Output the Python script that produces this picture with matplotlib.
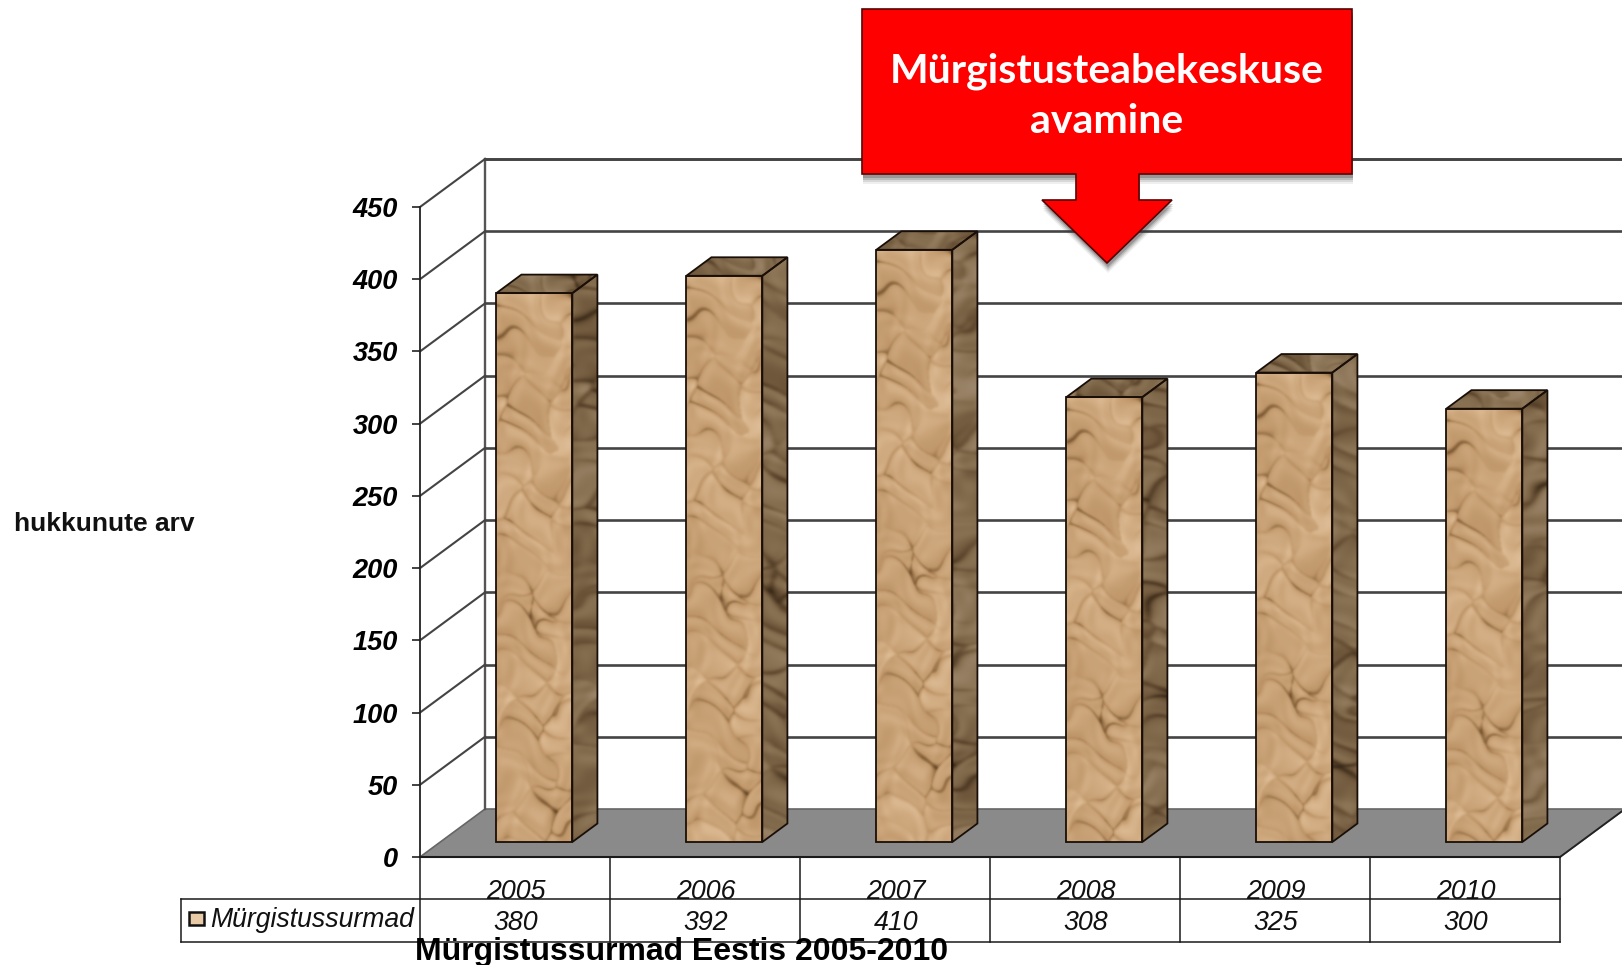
import numpy as np
import matplotlib
matplotlib.use("Agg")
import matplotlib.pyplot as plt
from matplotlib.colors import LinearSegmentedColormap
from matplotlib.patches import Polygon, Rectangle

years = ["2005", "2006", "2007", "2008", "2009", "2010"]
deaths = [380, 392, 410, 308, 325, 300]
y_ticks = [0, 50, 100, 150, 200, 250, 300, 350, 400, 450]
series_name = "Mürgistussurmad"
y_title = "hukkunute arv"
chart_title = "Mürgistussurmad Eestis 2005-2010"
callout_text = "Mürgistusteabekeskuse\navamine"

W, H = 1622, 965
plt.rcParams["font.family"] = ["Liberation Sans", "DejaVu Sans"]

fig = plt.figure(figsize=(W / 100, H / 100), dpi=100, facecolor="white")

# main axes is the front plane of the 3d box: one unit per category, values on y
left, right, bottom, top = 420, 1560, 857, 207
ax = fig.add_axes([left / W, 1 - bottom / H, (right - left) / W, (bottom - top) / H])
ax.set_xlim(0, 6)
ax.set_ylim(0, 450)
ax.patch.set_visible(False)
for s in ["top", "right", "bottom"]:
    ax.spines[s].set_visible(False)
ax.spines["left"].set_linewidth(1.3)
ax.spines["left"].set_color("#222222")
ax.set_xticks([])
ax.set_yticks(y_ticks)
ax.set_yticklabels(y_ticks, fontsize=19.5, fontweight="bold", fontstyle="italic", va="center_baseline")
ax.tick_params(axis="y", length=6, width=1.2, pad=10, color="#222222")

# depth of the box in data units
dx = 65 / 190
dy = 48 * 450 / 650


def val(y_px):
    # pixel row below the axes to value units, for the table under the chart
    return (bottom - y_px) * 450 / 650


# floor
ax.add_patch(Polygon([(0, 0), (dx, dy), (6 + dx, dy), (6, 0)], closed=True, fc="#8a8a8a",
                     ec="#666666", lw=1.2, zorder=1, clip_on=False))

# back wall and grid
grid_c = "#444444"
ax.plot([dx, dx], [dy, 450 + dy], color="#555555", lw=1.7, zorder=1.5, clip_on=False)
for t in y_ticks:
    if t > 0:
        ax.plot([0, dx], [t, t + dy], color=grid_c, lw=1.5, zorder=1.5, clip_on=False)
        ax.plot([dx, 6 + dx], [t + dy, t + dy], color=grid_c, lw=1.9, zorder=1.5, clip_on=False)
ax.plot([dx, 6 + dx], [450 + dy, 450 + dy], color=grid_c, lw=1.9, zorder=1.5, clip_on=False)
ax.plot([6, 6 + dx], [0, dy], color="#222222", lw=1.3, zorder=2, clip_on=False)

# crumpled paper look for the bars: folded facets around a fixed lattice of points
tex_h, tex_w = 620, 170
yy, xx = np.mgrid[0:tex_h, 0:tex_w].astype(float)
wx = xx + 12 * np.sin(yy / 17 + 1.3) + 6 * np.sin(xx / 7 + yy / 23)
wy = yy + 10 * np.sin(xx / 13 + 0.4) + 6 * np.sin(yy / 9 - xx / 11)
k = np.arange(1, 111)
sx = (k * 0.6180339) % 1 * tex_w
sy = (k * 0.7548777) % 1 * tex_h
dist = np.sqrt((wx[..., None] - sx) ** 2 + (wy[..., None] - sy) ** 2)
order = np.argsort(dist, axis=2)
near = order[..., 0]
d1 = np.take_along_axis(dist, order[..., :1], axis=2)[..., 0]
d2 = np.take_along_axis(dist, order[..., 1:2], axis=2)[..., 0]
ang = k[near] * 2.399963
# creases fade in and out so they do not close into cells
fade = np.clip(0.45 + 0.65 * np.sin(xx / 21 + yy / 37 + 0.6) * np.sin(yy / 29 - xx / 31 + 1.1), 0, 1)
shade = 0.6 + 0.0035 * (np.cos(ang) * (wx - sx[near]) + np.sin(ang) * (wy - sy[near]))
shade = shade + 0.04 * np.sin(k[near] * 1.7) + 0.05 * np.sin(wx / 5 + wy / 8) * np.sin(wy / 6 - wx / 9)
shade = shade - 0.42 * fade * np.exp(-(d2 - d1) / 2.2)
for _ in range(3):
    shade = (shade + np.roll(shade, 1, 0) + np.roll(shade, -1, 0) + np.roll(shade, 1, 1) + np.roll(shade, -1, 1)) / 5
paper = np.clip(shade, 0, 1)
paper_cm = LinearSegmentedColormap.from_list("paper", ["#5a3b1e", "#8f6a42", "#bd9568", "#d0aa80", "#e6c7a2"])
side_cm = LinearSegmentedColormap.from_list("side", ["#241a10", "#4a3722", "#6b5338", "#8b7355", "#a8937a"])

bar_w = 0.4
plane = 15 / 48  # bars stand this far into the box
depth = 18.5 / 48
for i, d in enumerate(deaths):
    x0 = i + 0.5 - bar_w / 2 + plane * dx - 0.005
    x1 = x0 + bar_w
    y0 = plane * dy
    y1 = d + plane * dy
    ddx = depth * dx
    ddy = depth * dy
    front = [(x0, y0), (x1, y0), (x1, y1), (x0, y1)]
    side = [(x1, y0), (x1 + ddx, y0 + ddy), (x1 + ddx, y1 + ddy), (x1, y1)]
    roof = [(x0, y1), (x1, y1), (x1 + ddx, y1 + ddy), (x0 + ddx, y1 + ddy)]
    n = int(d * 650 / 450) + 1
    off = 30 * i
    ax.imshow(paper[:n, :76], cmap=paper_cm, vmin=0.15, vmax=0.8, extent=(x0, x1, y0, y1), aspect="auto", zorder=3,
              interpolation="bilinear", clip_on=False)
    for pts, tex, cm in [(side, paper[:n, off:off + 14], side_cm), (roof, paper[off:off + 24, :100], side_cm)]:
        xs = [p[0] for p in pts]
        ys = [p[1] for p in pts]
        im = ax.imshow(tex, cmap=cm, vmin=0.15, vmax=0.8, extent=(min(xs), max(xs), min(ys), max(ys)), aspect="auto",
                       zorder=3, interpolation="bilinear")
        clip = Polygon(pts, closed=True, transform=ax.transData)
        im.set_clip_path(clip)
    for pts in [front, side, roof]:
        ax.add_patch(Polygon(pts, closed=True, fc="none", ec="#1a0f08", lw=1.3, zorder=4, clip_on=False))

ax.set_xlim(0, 6)
ax.set_ylim(0, 450)

# data table under the chart
tc = "#1a1a1a"
ax.plot([0, 6], [0, 0], color=tc, lw=1.5, zorder=5, clip_on=False)
ax.plot([-239 / 190, 6], [val(899), val(899)], color=tc, lw=1.1, zorder=5, clip_on=False)
ax.plot([-239 / 190, 6], [val(942), val(942)], color=tc, lw=1.1, zorder=5, clip_on=False)
ax.plot([-239 / 190, -239 / 190], [val(899), val(942)], color=tc, lw=1.1, zorder=5, clip_on=False)
for i in range(7):
    ax.plot([i, i], [0, val(942)], color=tc, lw=1.1, zorder=5, clip_on=False)
for i in range(6):
    ax.text(i + 0.505, val(899), years[i], ha="center", va="baseline", fontsize=19.3, fontstyle="italic",
            color="#111111", zorder=6, clip_on=False)
    ax.text(i + 0.505, val(923), str(deaths[i]), ha="center", va="center", fontsize=19.3, fontstyle="italic",
            color="#111111", zorder=6, clip_on=False)

# overlay in pixel coordinates for legend key, titles and the callout
ov = fig.add_axes([0, 0, 1, 1], zorder=10)
ov.set_xlim(0, W)
ov.set_ylim(H, 0)
ov.axis("off")

ov.add_patch(Rectangle((189, 912), 15, 13, fc="#e8cba6", ec="#111111", lw=1.8))
ov.text(210, 920, series_name, ha="left", va="center", fontsize=19.2, fontstyle="italic", color="#111111")
ov.text(14, 524, y_title, ha="left", va="center", fontsize=19, fontweight="bold", color="#111111")
ov.text(415, 952, chart_title, ha="left", va="center", fontsize=23, fontweight="bold", color="black")

callout = [(862, 9), (1352, 9), (1352, 174), (1139, 174), (1139, 200), (1172, 200), (1107, 263),
           (1042, 200), (1076, 200), (1076, 174), (862, 174)]
for s, a in [(10, 0.08), (8, 0.12), (6, 0.18), (4, 0.26)]:
    ov.add_patch(Polygon([(x + 1, y + s) for x, y in callout], closed=True, fc="#333333", ec="none", alpha=a))
ov.add_patch(Polygon(callout, closed=True, fc="#ff0000", ec="#5a0000", lw=1.2))
ov.text(1107, 96, callout_text, ha="center", va="center", fontsize=29.5, fontweight="bold", color="white",
        family=["Lato", "DejaVu Sans"], linespacing=1.45)

fig.savefig("out.png", dpi=100)
